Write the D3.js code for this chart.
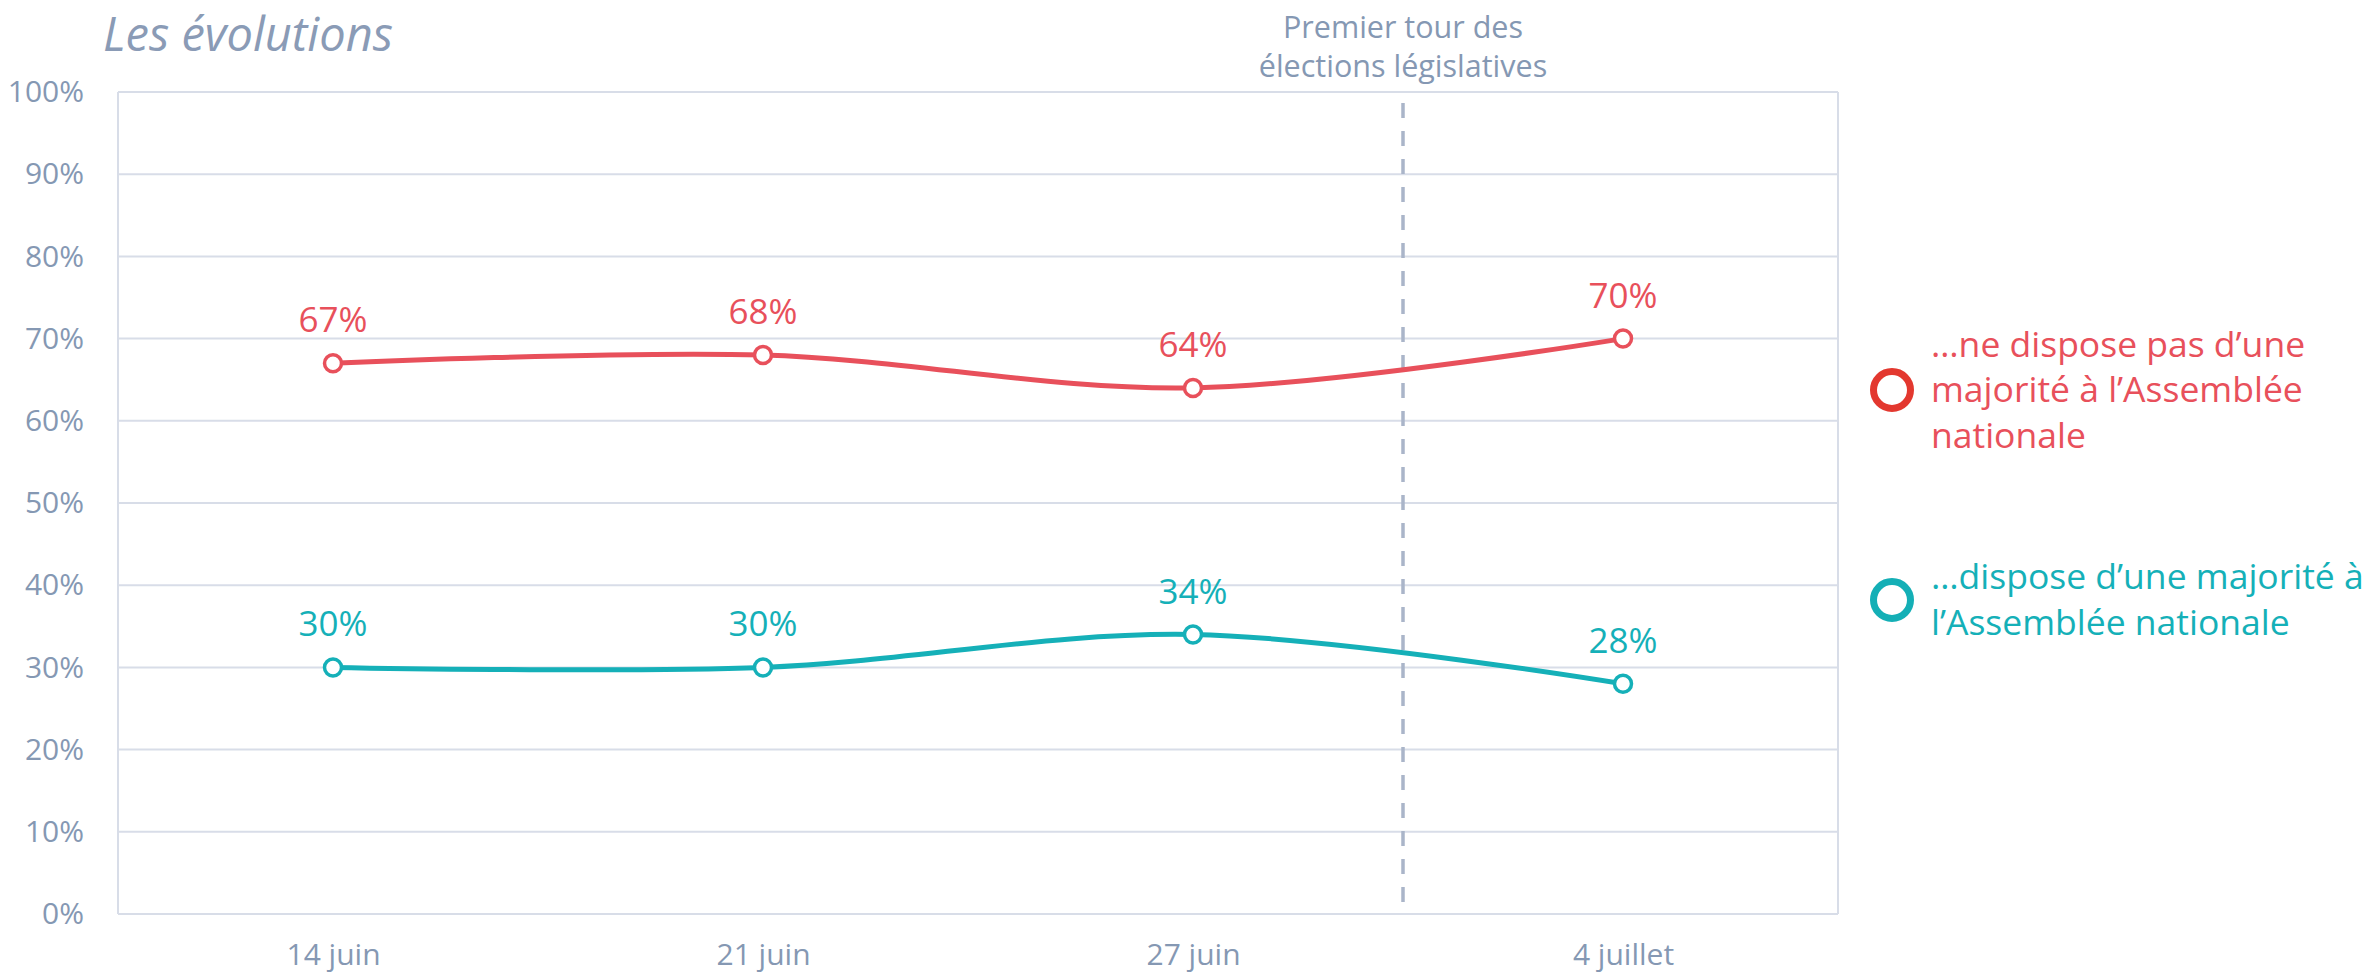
<!DOCTYPE html>
<html><head><meta charset="utf-8">
<script src="https://cdn.jsdelivr.net/npm/d3@7"></script>
<style>html,body{margin:0;padding:0;background:#fff;} svg{display:block;font-family:"Open Sans","Noto Sans",sans-serif;}</style>
</head><body>
<svg id="chart" width="2368" height="979"></svg>
<script>
const categories = ["14 juin", "21 juin", "27 juin", "4 juillet"];
const seriesNames = ["…ne dispose pas d’une majorité à l’Assemblée nationale", "…dispose d’une majorité à l’Assemblée nationale"];
const noMajority = [67, 68, 64, 70];
const majority = [30, 30, 34, 28];
const yTicks = [0, 10, 20, 30, 40, 50, 60, 70, 80, 90, 100];
const titleText = "Les évolutions";
const annotationLines = ["Premier tour des", "élections législatives"];
const legendLines = [["…ne dispose pas d’une", "majorité à l’Assemblée", "nationale"], ["…dispose d’une majorité à", "l’Assemblée nationale"]];

const W = 2368, H = 979;
const m = {left: 118, top: 92, right: 530, bottom: 65};
const pw = W - m.left - m.right, ph = H - m.top - m.bottom;
const svg = d3.select("#chart");
const axisColor = "#8598b3";
const gridColor = "#d8dde8";
const red = "#e8505b", teal = "#15b0b8";

const x = d3.scalePoint().domain(categories).range([m.left, m.left + pw]).padding(0.5);
const y = d3.scaleLinear().domain([0, 100]).range([m.top + ph, m.top]);

// title
svg.append("text").attr("x", 103).attr("y", 51).attr("font-size", 47).attr("font-style", "italic")
  .attr("fill", "#8a9bb6").text(titleText);

// gridlines
const g = svg.append("g");
g.selectAll("line.grid").data(yTicks).join("line")
  .attr("x1", m.left).attr("x2", m.left + pw)
  .attr("y1", d => y(d)).attr("y2", d => y(d))
  .attr("stroke", gridColor).attr("stroke-width", 2);
g.append("line").attr("x1", m.left).attr("x2", m.left).attr("y1", m.top).attr("y2", m.top + ph).attr("stroke", gridColor).attr("stroke-width", 2);
g.append("line").attr("x1", m.left + pw).attr("x2", m.left + pw).attr("y1", m.top).attr("y2", m.top + ph).attr("stroke", gridColor).attr("stroke-width", 2);

// y axis
const yAxis = svg.append("g").attr("transform", `translate(${m.left},0)`)
  .call(d3.axisLeft(y).tickValues(yTicks).tickFormat(d => d + "%").tickSize(0).tickPadding(34));
yAxis.select(".domain").remove();
yAxis.selectAll("text").attr("font-size", 30).attr("fill", axisColor).attr("font-family", "Open Sans");

// x axis
const xAxis = svg.append("g").attr("transform", `translate(0,${m.top + ph})`)
  .call(d3.axisBottom(x).tickSize(0).tickPadding(30));
xAxis.select(".domain").remove();
xAxis.selectAll("text").attr("font-size", 30).attr("fill", axisColor).attr("font-family", "Open Sans");

// election dashed line
const ex = (x(categories[2]) + x(categories[3])) / 2 - 5;
svg.append("line").attr("x1", ex).attr("x2", ex).attr("y1", m.top + 11).attr("y2", m.top + ph - 10)
  .attr("stroke", "#aab5c9").attr("stroke-width", 3.5).attr("stroke-dasharray", "15 13");
svg.append("text").attr("x", ex).attr("y", 38).attr("text-anchor", "middle").attr("font-size", 30.5).attr("fill", axisColor)
  .selectAll("tspan").data(annotationLines).join("tspan")
  .attr("x", ex).attr("dy", (d, i) => i === 0 ? 0 : 39).text(d => d);

// series
const series = [
  {name: seriesNames[0], values: noMajority, color: red, legendColor: "#e3382f", lines: legendLines[0]},
  {name: seriesNames[1], values: majority, color: teal, legendColor: "#14afb6", lines: legendLines[1]}
];
const line = d3.line().x((d, i) => x(categories[i])).y(d => y(d)).curve(d3.curveCatmullRom.alpha(0.5));
series.forEach(s => {
  svg.append("path").datum(s.values).attr("d", line).attr("fill", "none")
    .attr("stroke", s.color).attr("stroke-width", 5);
  svg.selectAll(null).data(s.values).join("circle")
    .attr("cx", (d, i) => x(categories[i])).attr("cy", d => y(d)).attr("r", 8.5)
    .attr("fill", "#fff").attr("stroke", s.color).attr("stroke-width", 3.5);
  svg.selectAll(null).data(s.values).join("text")
    .attr("x", (d, i) => x(categories[i])).attr("y", d => y(d) - 31)
    .attr("text-anchor", "middle").attr("font-size", 35).attr("fill", s.color).text(d => d + "%");
});

// legend
const legendY = [390, 600];
series.forEach((s, k) => {
  const cy = legendY[k];
  svg.append("circle").attr("cx", 1892).attr("cy", cy).attr("r", 18.5).attr("fill", "none")
    .attr("stroke", s.legendColor).attr("stroke-width", 7);
  const n = s.lines.length;
  svg.append("text").attr("x", 1931).attr("y", cy - (n - 1) * 45.5 / 2 + 12).attr("font-size", 35.5).attr("fill", s.color)
    .selectAll("tspan").data(s.lines).join("tspan").attr("x", 1931).attr("dy", (d, i) => i === 0 ? 0 : 45.5).text(d => d);
});
</script>
</body></html>
